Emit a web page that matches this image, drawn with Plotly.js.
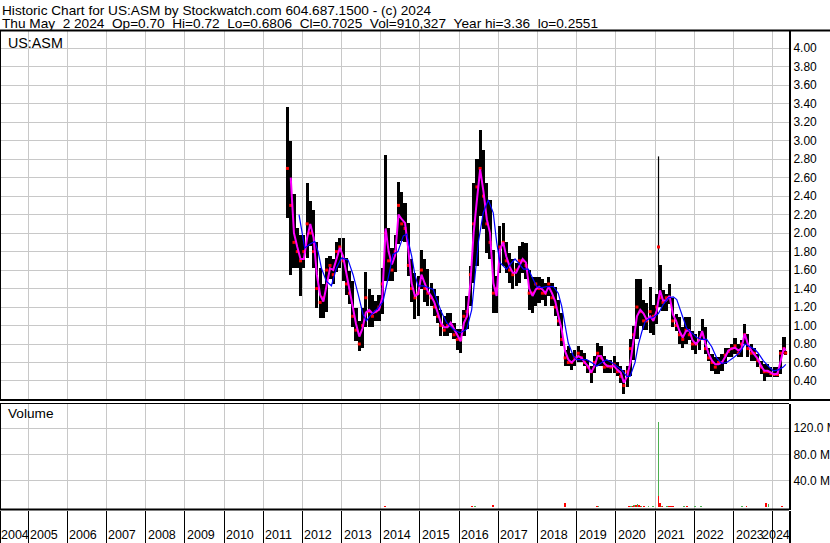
<!DOCTYPE html>
<html><head><meta charset="utf-8">
<script src="https://cdn.plot.ly/plotly-3.0.1.min.js"></script>
<style>html,body{margin:0;padding:0;background:#fff;overflow:hidden}#chart{width:830px;height:543px}</style>
</head><body><div id="chart"></div>
<script>
// ---- monthly price data ----
const months = [
 '2011-08-15','2011-09-15','2011-10-15','2011-11-15','2011-12-15',
 '2012-01-15','2012-02-15','2012-03-15','2012-04-15','2012-05-15','2012-06-15','2012-07-15','2012-08-15','2012-09-15','2012-10-15','2012-11-15','2012-12-15',
 '2013-01-15','2013-02-15','2013-03-15','2013-04-15','2013-05-15','2013-06-15','2013-07-15','2013-08-15','2013-09-15','2013-10-15','2013-11-15','2013-12-15',
 '2014-01-15','2014-02-15','2014-03-15','2014-04-15','2014-05-15','2014-06-15','2014-07-15','2014-08-15','2014-09-15','2014-10-15','2014-11-15','2014-12-15',
 '2015-01-15','2015-02-15','2015-03-15','2015-04-15','2015-05-15','2015-06-15','2015-07-15','2015-08-15','2015-09-15','2015-10-15','2015-11-15','2015-12-15',
 '2016-01-15','2016-02-15','2016-03-15','2016-04-15','2016-05-15','2016-06-15','2016-07-15','2016-08-15','2016-09-15','2016-10-15','2016-11-15','2016-12-15',
 '2017-01-15','2017-02-15','2017-03-15','2017-04-15','2017-05-15','2017-06-15','2017-07-15','2017-08-15','2017-09-15','2017-10-15','2017-11-15','2017-12-15',
 '2018-01-15','2018-02-15','2018-03-15','2018-04-15','2018-05-15','2018-06-15','2018-07-15','2018-08-15','2018-09-15','2018-10-15','2018-11-15','2018-12-15',
 '2019-01-15','2019-02-15','2019-03-15','2019-04-15','2019-05-15','2019-06-15','2019-07-15','2019-08-15','2019-09-15','2019-10-15','2019-11-15','2019-12-15',
 '2020-01-15','2020-02-15','2020-03-15','2020-04-15','2020-05-15','2020-06-15','2020-07-15','2020-08-15','2020-09-15','2020-10-15','2020-11-15','2020-12-15',
 '2021-01-15','2021-02-15','2021-03-15','2021-04-15','2021-05-15','2021-06-15','2021-07-15','2021-08-15','2021-09-15','2021-10-15','2021-11-15','2021-12-15',
 '2022-01-15','2022-02-15','2022-03-15','2022-04-15','2022-05-15','2022-06-15','2022-07-15','2022-08-15','2022-09-15','2022-10-15','2022-11-15','2022-12-15',
 '2023-01-15','2023-02-15','2023-03-15','2023-04-15','2023-05-15','2023-06-15','2023-07-15','2023-08-15','2023-09-15','2023-10-15','2023-11-15','2023-12-15',
 '2024-01-15','2024-02-15','2024-03-15','2024-04-15','2024-05-01'
];
const high = [
 3.36,3.00,2.42,2.06,1.98,
 1.98,2.54,2.35,2.25,1.90,1.62,1.45,1.73,1.75,1.72,1.90,1.95,
 1.95,1.73,1.59,1.48,1.19,1.05,1.19,1.58,1.40,1.33,1.26,1.33,
 1.62,2.85,2.06,1.84,1.98,2.55,2.45,2.33,2.11,1.72,1.57,1.54,
 1.82,1.72,1.61,1.46,1.39,1.32,1.17,1.10,1.14,1.14,1.03,0.96,
 0.96,1.17,1.32,1.64,2.54,2.80,3.12,2.90,2.54,2.36,1.82,1.54,
 2.08,2.11,1.90,1.79,1.72,1.68,1.86,1.90,1.89,1.60,1.53,1.53,
 1.53,1.50,1.46,1.53,1.46,1.42,1.28,1.14,0.74,0.78,0.70,0.74,
 0.78,0.74,0.70,0.63,0.56,0.67,0.81,0.78,0.67,0.63,0.63,0.67,
 0.60,0.56,0.52,0.56,0.85,0.99,1.50,1.50,1.28,1.24,1.42,1.22,
 1.34,1.66,1.38,1.34,1.45,1.30,1.12,1.09,0.98,1.09,1.09,0.94,
 0.91,0.94,1.07,0.98,0.76,0.69,0.66,0.66,0.69,0.76,0.76,0.80,
 0.87,0.80,0.84,1.02,0.91,0.80,0.76,0.69,0.62,0.58,0.58,0.55,
 0.55,0.55,0.73,0.88,0.72
];
const low = [
 2.16,1.55,1.62,1.62,1.32,
 1.62,1.73,1.86,1.62,1.19,1.08,1.08,1.15,1.50,1.45,1.58,1.62,
 1.48,1.33,1.23,0.98,0.83,0.72,0.76,0.98,0.98,0.98,1.05,1.05,
 1.12,1.48,1.48,1.48,1.58,1.88,1.91,1.90,1.54,1.25,1.07,1.10,
 1.39,1.25,1.21,1.21,1.10,1.03,0.89,0.89,0.89,0.92,0.85,0.74,
 0.70,0.89,0.96,1.21,1.46,1.64,2.18,2.04,1.79,1.72,1.14,1.14,
 1.57,1.64,1.57,1.46,1.39,1.43,1.46,1.57,1.50,1.17,1.14,1.21,
 1.24,1.28,1.21,1.32,1.21,1.10,0.99,0.78,0.56,0.56,0.52,0.56,
 0.60,0.60,0.56,0.49,0.38,0.49,0.56,0.56,0.49,0.49,0.49,0.49,
 0.45,0.38,0.26,0.34,0.45,0.63,0.85,0.99,0.95,0.95,0.92,0.90,
 1.02,1.20,1.16,1.16,1.23,0.98,0.94,0.80,0.76,0.80,0.84,0.73,
 0.69,0.73,0.84,0.69,0.62,0.51,0.48,0.48,0.51,0.58,0.66,0.66,
 0.69,0.66,0.66,0.80,0.66,0.62,0.62,0.55,0.48,0.40,0.44,0.44,
 0.44,0.44,0.48,0.69,0.68
];
const closes = [
 2.70,2.30,1.90,1.80,1.70,
 1.80,2.10,2.00,1.80,1.40,1.25,1.30,1.60,1.65,1.55,1.80,1.85,
 1.70,1.45,1.35,1.10,0.95,0.80,1.00,1.30,1.15,1.10,1.15,1.20,
 1.45,2.00,1.70,1.60,1.80,2.30,2.10,2.05,1.65,1.40,1.30,1.35,
 1.60,1.40,1.35,1.30,1.20,1.10,1.00,0.95,1.00,1.00,0.90,0.85,
 0.85,1.10,1.15,1.55,2.10,2.50,2.70,2.40,2.10,1.90,1.35,1.40,
 1.85,1.90,1.70,1.60,1.55,1.60,1.70,1.70,1.65,1.35,1.35,1.45,
 1.40,1.35,1.35,1.45,1.30,1.20,1.05,0.85,0.65,0.60,0.60,0.65,
 0.70,0.65,0.60,0.55,0.50,0.60,0.70,0.65,0.55,0.56,0.55,0.58,
 0.50,0.45,0.35,0.50,0.75,0.90,1.20,1.15,1.05,1.05,1.15,1.10,
 1.20,1.30,1.25,1.30,1.30,1.05,1.00,0.90,0.85,0.95,0.90,0.80,
 0.80,0.85,0.90,0.75,0.65,0.60,0.55,0.60,0.60,0.68,0.72,0.75,
 0.78,0.70,0.80,0.90,0.75,0.70,0.70,0.62,0.55,0.50,0.50,0.48,
 0.47,0.47,0.70,0.75,0.7025
];
const maShort = [
 null,2.60,2.00,1.85,1.72,
 1.72,1.95,2.10,1.95,1.55,1.33,1.26,1.45,1.62,1.60,1.72,1.84,
 1.75,1.55,1.40,1.19,1.02,0.88,0.97,1.14,1.17,1.13,1.15,1.17,
 1.30,2.05,1.80,1.66,1.76,2.20,2.15,2.11,1.82,1.46,1.32,1.34,
 1.55,1.45,1.37,1.32,1.25,1.14,1.03,0.98,0.98,1.03,0.96,0.89,
 0.83,1.03,1.10,1.46,2.00,2.36,2.69,2.45,2.15,2.00,1.46,1.32,
 1.82,1.90,1.75,1.64,1.57,1.57,1.64,1.72,1.68,1.40,1.32,1.39,
 1.42,1.39,1.35,1.42,1.35,1.26,1.10,0.95,0.72,0.63,0.60,0.63,
 0.67,0.65,0.60,0.56,0.49,0.56,0.67,0.67,0.59,0.56,0.56,0.56,
 0.52,0.49,0.38,0.45,0.60,0.85,1.10,1.17,1.13,1.06,1.10,1.05,
 1.16,1.38,1.27,1.27,1.32,1.12,1.05,0.94,0.87,0.94,0.95,0.84,
 0.80,0.84,0.94,0.80,0.69,0.62,0.58,0.58,0.60,0.66,0.73,0.75,
 0.76,0.73,0.75,0.91,0.80,0.73,0.69,0.64,0.56,0.51,0.51,0.49,
 0.47,0.48,0.62,0.76,0.73
];
// one-day spike of 1 Feb 2021
const spikeDate = '2021-02-01';
const spikeHigh = 2.83;
const spikeLow = 1.63;
const spikeClose = 1.85;
// ---- long moving average (blue) ----
const maLongDates = [
 '2011-12-01','2012-01-23','2012-03-10','2012-04-26','2012-05-27','2012-06-27','2012-08-12','2012-09-28','2012-11-13','2012-12-30',
 '2013-03-02','2013-04-18','2013-06-04','2013-07-20','2013-08-20','2013-10-05','2013-12-07','2014-01-22','2014-03-25','2014-04-24',
 '2014-06-10','2014-07-30','2014-08-31','2014-10-16','2014-11-16','2014-12-16','2015-02-01','2015-03-18','2015-05-05','2015-06-06',
 '2015-07-22','2015-09-07','2015-11-07','2016-01-09','2016-03-12','2016-04-27','2016-05-28','2016-06-28','2016-08-13','2016-09-29',
 '2016-11-14','2016-12-16','2017-01-16','2017-02-16','2017-03-18','2017-05-05','2017-06-05','2017-07-06','2017-08-22','2017-10-07',
 '2017-11-07','2017-12-24','2018-02-09','2018-03-27','2018-05-28','2018-07-13','2018-08-14','2018-09-14','2018-10-14','2018-11-30',
 '2019-01-01','2019-02-16','2019-04-04','2019-05-20','2019-07-06','2019-08-22','2019-10-07','2019-11-23','2020-01-08','2020-02-24',
 '2020-04-11','2020-05-12','2020-06-27','2020-07-28','2020-08-29','2020-09-29','2020-10-30','2020-12-15','2021-01-31','2021-03-18',
 '2021-05-04','2021-06-19','2021-07-21','2021-09-05','2021-10-21','2021-12-08','2022-01-23','2022-03-10','2022-04-26','2022-06-12',
 '2022-07-28','2022-09-12','2022-10-29','2022-12-30','2023-03-02','2023-04-18','2023-06-04','2023-07-20','2023-08-20','2023-10-05',
 '2023-11-21','2024-01-06','2024-02-22','2024-04-09','2024-05-02'
];
const maLong = [
 2.20,1.84,1.88,1.91,1.80,1.62,1.48,1.43,1.62,1.73,
 1.71,1.55,1.34,1.12,1.05,1.12,1.19,1.26,1.59,1.77,
 1.80,1.97,1.99,1.75,1.54,1.43,1.43,1.41,1.39,1.28,
 1.14,1.03,0.96,0.92,0.96,1.17,1.54,1.90,2.22,2.36,
 2.22,1.90,1.68,1.64,1.61,1.68,1.72,1.68,1.61,1.61,
 1.53,1.42,1.41,1.42,1.42,1.35,1.21,0.99,0.81,0.67,
 0.63,0.63,0.63,0.60,0.56,0.60,0.63,0.60,0.56,0.52,
 0.45,0.45,0.60,0.79,0.93,1.04,1.07,1.09,1.13,1.23,
 1.30,1.31,1.28,1.12,0.97,0.92,0.87,0.85,0.85,0.77,
 0.65,0.59,0.60,0.65,0.71,0.80,0.77,0.74,0.70,0.62,
 0.56,0.51,0.52,0.55,0.58
];
// ---- volume (visible bars only) ----
const volUpDates = ['2014-02-10','2016-05-26','2019-07-20','2020-05-19','2020-06-20','2020-07-19','2020-08-22','2020-10-30','2020-12-10','2021-02-01','2021-02-16','2021-03-05','2021-04-22','2021-09-28','2022-01-08','2022-03-01','2023-03-22','2023-11-24','2024-04-01'];
const volUp = [2.0e6,1.2e6,1.2e6,1.5e6,2.5e6,4.5e6,1.2e6,1.0e6,1.0e6,130e6,4.0e6,1.5e6,1.5e6,1.0e6,1.0e6,1.0e6,1.0e6,4.5e6,1.0e6];
const volDownDates = ['2014-02-12','2016-05-01','2016-11-10','2018-09-13','2019-07-08','2020-05-05','2020-06-05','2020-07-06','2020-07-31','2020-08-15','2020-09-20','2021-02-02','2021-02-14','2021-03-10','2021-05-10','2021-05-28','2021-06-15','2021-10-26','2023-05-01','2023-10-30','2024-03-28'];
const volDown = [1.0e6,1.2e6,2.5e6,5.5e6,1.2e6,1.2e6,1.5e6,3.0e6,3.5e6,1.5e6,1.0e6,17e6,6.0e6,2.0e6,1.2e6,1.2e6,1.2e6,1.0e6,1.0e6,6.5e6,1.0e6];
// ---- ticks / labels ----
const priceTicks = [0.4,0.6,0.8,1.0,1.2,1.4,1.6,1.8,2.0,2.2,2.4,2.6,2.8,3.0,3.2,3.4,3.6,3.8,4.0];
const volTicks = [40e6,80e6,120e6];
const volTickText = ['40.0 M','80.0 M','120.0 M'];
const yearLabels = ['2004','2005','2006','2007','2008','2009','2010','2011','2012','2013','2014','2015','2016','2017','2018','2019','2020','2021','2022','2023','2024'];
const headerLine1 = 'Historic Chart for US:ASM by Stockwatch.com 604.687.1500 - (c) 2024';
const headerLine2 = 'Thu May  2 2024  Op=0.70  Hi=0.72  Lo=0.6806  Cl=0.7025  Vol=910,327  Year hi=3.36  lo=0.2551';

// ---- layout geometry ----
const W = 830, H = 543, ML = 1, MR = 41, MT = 31, MB = 0;
const PW = W - ML - MR, PH = H - MT - MB;
const py = Y => (H - MB - Y) / PH;      // pixel row -> paper y
const px = X => (X - ML) / PW;          // pixel col -> paper x
const xRange = ['2004-04-24', '2024-06-01'];
const FONT = 'Liberation Sans, Arial, sans-serif';
const GRID = '#c8c8c8';
const DAY = 86400000;

const traces = [
 {type:'bar', x: months, base: low, y: high.map((h,i)=>h-low[i]), width: 29.5*DAY,
  marker:{color:'#000', line:{width:0}}, xaxis:'x', yaxis:'y', hoverinfo:'skip'},
 {type:'scatter', mode:'lines', x:[spikeDate, spikeDate], y:[spikeLow, spikeHigh],
  line:{color:'#000', width:1.2}, xaxis:'x', yaxis:'y', hoverinfo:'skip'},
 {type:'scatter', mode:'markers', x: months.concat([spikeDate]), y: closes.concat([spikeClose]),
  marker:{symbol:'square', size:3, color:'#ff0000', line:{width:0}}, xaxis:'x', yaxis:'y', hoverinfo:'skip'},
 {type:'scatter', mode:'lines', x: months, y: maShort, line:{color:'#ff00ff', width:2}, xaxis:'x', yaxis:'y', hoverinfo:'skip'},
 {type:'scatter', mode:'lines', x: maLongDates, y: maLong, line:{color:'#0000ff', width:1.2}, xaxis:'x', yaxis:'y', hoverinfo:'skip'},
 {type:'bar', x: volUpDates, y: volUp, width: 16*DAY, marker:{color:'#4cb050', line:{width:0}}, xaxis:'x2', yaxis:'y2', hoverinfo:'skip'},
 {type:'bar', x: volDownDates, y: volDown, width: 16*DAY, marker:{color:'#ff0000', line:{width:0}}, xaxis:'x2', yaxis:'y2', hoverinfo:'skip'},
 {type:'scatter', mode:'markers', x:[], y:[], xaxis:'x3', yaxis:'y3', hoverinfo:'skip'}
];

const xCommon = {type:'date', range: xRange, dtick:'M12', tick0:'2005-01-01', showticklabels:false,
  ticks:'', zeroline:false, fixedrange:true, showline:false};

const TXT = {family:FONT, size:13.65, color:'#000'};
const annotations = [
 {xref:'paper', yref:'paper', x: px(0), y: py(10), xanchor:'left', yanchor:'middle', text: headerLine1.replace(/  /g,' \u00a0'),
  showarrow:false, font:TXT},
 {xref:'paper', yref:'paper', x: px(0), y: py(23), xanchor:'left', yanchor:'middle', text: headerLine2.replace(/  /g,' \u00a0'),
  showarrow:false, font:TXT},
 {xref:'paper', yref:'paper', x: px(6), y: py(42.5), xanchor:'left', yanchor:'middle', text:'US:ASM',
  showarrow:false, font:{family:FONT, size:14.3, color:'#000'}},
 {xref:'paper', yref:'paper', x: px(6), y: py(413), xanchor:'left', yanchor:'middle', text:'Volume',
  showarrow:false, font:TXT}
];
yearLabels.forEach((yr, i) => {
  const a = {xref:'x3', yref:'paper', y: py(535), yanchor:'middle', text: yr, showarrow:false,
    font:{family:FONT, size:12.5, color:'#000'}};
  if (i === 0) { a.x = xRange[0]; a.xanchor = 'left'; a.xshift = -2; }
  else if (i === yearLabels.length - 1) { a.x = xRange[1]; a.xanchor = 'right'; a.xshift = 3; }
  else { a.x = yr + '-01-01'; a.xanchor = 'left'; a.xshift = 0; }
  annotations.push(a);
});

// panel borders
const hline = (Y, x1, w) => ({type:'line', xref:'paper', yref:'paper', x0: px(0), x1: px(x1), y0: py(Y), y1: py(Y),
  line:{color:'#000', width:w}, layer:'above'});
const shapes = [
  hline(30.5, W, 2),     // under the header, full width
  hline(400, W, 2),      // bottom of price panel
  hline(403.5, 789, 1),  // top of volume panel
  hline(509.5, 789, 2)   // bottom of volume panel
];

const layout = {
  width: W, height: H, margin:{l:ML, r:MR, t:MT, b:MB, pad:0},
  paper_bgcolor:'#fff', plot_bgcolor:'#fff', showlegend:false, barmode:'overlay', bargap:0,
  font:{family:FONT, size:12, color:'#000'},
  xaxis: Object.assign({}, xCommon, {anchor:'y', showgrid:true, gridcolor:GRID, gridwidth:1}),
  yaxis: {domain:[py(400), 1], side:'right', range:[0.194, 4.187], tickmode:'array', tickvals: priceTicks,
    ticktext: priceTicks.map(v => v.toFixed(2)), showgrid:true, gridcolor:GRID, gridwidth:1, zeroline:false,
    ticks:'', ticklabelstandoff:0, showline:true, linecolor:'#000', linewidth:2, mirror:true,
    tickfont:{family:FONT, size:12, color:'#000'}, fixedrange:true},
  xaxis2: Object.assign({}, xCommon, {anchor:'y2', showgrid:true, gridcolor:GRID, gridwidth:1}),
  yaxis2: {domain:[py(509.5), py(403.5)], side:'right', range:[-3.8e6, 157.8e6], tickmode:'array', tickvals: volTicks,
    ticktext: volTickText, showgrid:true, gridcolor:GRID, gridwidth:1, zeroline:false, ticks:'', ticklabelstandoff:0,
    showline:true, linecolor:'#000', linewidth:2, mirror:true, tickfont:{family:FONT, size:12, color:'#000'}, fixedrange:true},
  xaxis3: Object.assign({}, xCommon, {anchor:'y3', showgrid:true, gridcolor:'#000', gridwidth:1}),
  yaxis3: {domain:[0, py(510.5)], range:[0,1], showgrid:false, zeroline:false, showticklabels:false, ticks:'',
    showline:true, linecolor:'#000', linewidth:2, mirror:true, fixedrange:true},
  shapes: shapes,
  annotations: annotations
};

Plotly.newPlot('chart', traces, layout, {staticPlot:true, displayModeBar:false});
</script></body></html>
